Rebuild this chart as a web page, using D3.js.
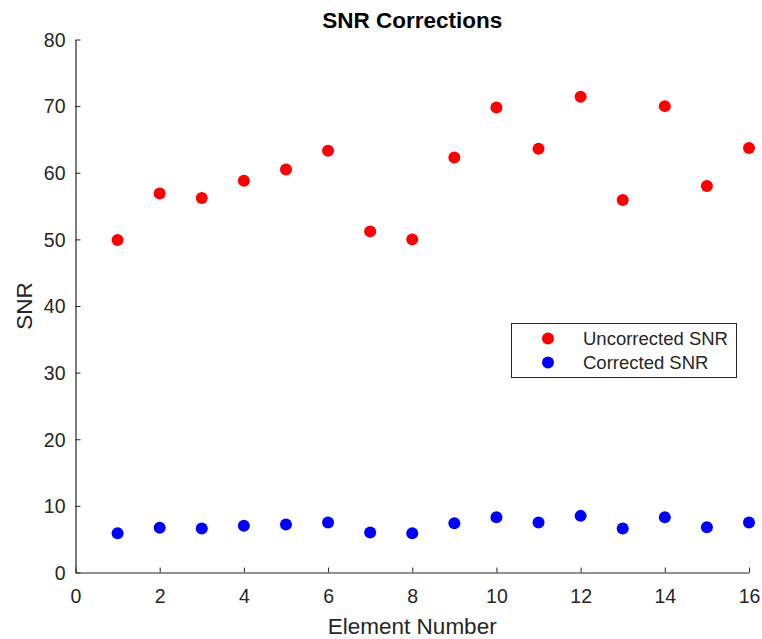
<!DOCTYPE html>
<html>
<head>
<meta charset="utf-8">
<script src="https://cdn.jsdelivr.net/npm/d3@7"></script>
<style>
html,body{margin:0;padding:0;background:#fff;}
svg{display:block;}
text{font-family:"Liberation Sans",Arial,Helvetica,sans-serif;}
</style>
</head>
<body>
<svg id="chart" width="762" height="639"></svg>
<script>
const elements = [1,2,3,4,5,6,7,8,9,10,11,12,13,14,15,16];
const uncorrected = [49.9,56.9,56.2,58.8,60.5,63.3,51.2,50.0,62.3,69.8,63.6,71.4,55.9,70.0,58.0,63.7];
const corrected = [5.9,6.7,6.6,7.0,7.2,7.5,6.0,5.9,7.4,8.3,7.5,8.5,6.6,8.3,6.8,7.5];
const xTicks = [0,2,4,6,8,10,12,14,16];
const yTicks = [0,10,20,30,40,50,60,70,80];
const seriesNames = ["Uncorrected SNR","Corrected SNR"];
const seriesColors = ["#ff0000","#0000ff"];

const svg = d3.select("#chart");
const L = 75.5, R = 749, T = 39.5, B = 572.5;
const x = d3.scaleLinear().domain([0,16]).range([L,R]);
const y = d3.scaleLinear().domain([0,80]).range([B,T]);
const axisColor = "#262626";

// x axis
const gx = svg.append("g").attr("transform",`translate(0,${B})`)
  .call(d3.axisBottom(x).tickValues(xTicks).tickSizeInner(-5).tickSizeOuter(0).tickPadding(0));
gx.select(".domain").attr("stroke",axisColor).attr("stroke-width",1.2);
gx.selectAll(".tick line").attr("stroke",axisColor);
gx.selectAll(".tick text").attr("fill",axisColor).attr("font-size",19.5)
  .attr("font-family","Liberation Sans, Arial, sans-serif").attr("dy",null).attr("y",30);

// y axis
const gy = svg.append("g").attr("transform",`translate(${L},0)`)
  .call(d3.axisLeft(y).tickValues(yTicks).tickSizeInner(-5).tickSizeOuter(0).tickPadding(0));
gy.select(".domain").attr("stroke",axisColor).attr("stroke-width",1.2);
gy.selectAll(".tick line").attr("stroke",axisColor);
gy.selectAll(".tick text").attr("fill",axisColor).attr("font-size",19.5)
  .attr("font-family","Liberation Sans, Arial, sans-serif").attr("x",-10).attr("dy","0.35em");

// title
svg.append("text").attr("x",(L+R)/2).attr("y",28).attr("text-anchor","middle")
  .attr("font-size",22.5).attr("font-weight","bold").attr("fill","#000").text("SNR Corrections");
// x label
svg.append("text").attr("x",(L+R)/2).attr("y",634).attr("text-anchor","middle")
  .attr("font-size",22.5).attr("fill",axisColor).text("Element Number");
// y label
svg.append("text").attr("transform",`translate(31.5,${(T+B)/2}) rotate(-90)`).attr("text-anchor","middle")
  .attr("font-size",22.5).attr("fill",axisColor).text("SNR");

// points
svg.append("g").selectAll("circle").data(elements).join("circle")
  .attr("cx",(d)=>x(d)).attr("cy",(d,i)=>y(uncorrected[i])).attr("r",6).attr("fill",seriesColors[0]);
svg.append("g").selectAll("circle").data(elements).join("circle")
  .attr("cx",(d)=>x(d)).attr("cy",(d,i)=>y(corrected[i])).attr("r",6).attr("fill",seriesColors[1]);

// legend
const lg = svg.append("g");
lg.append("rect").attr("x",511.5).attr("y",323.5).attr("width",225).attr("height",54)
  .attr("fill","#fff").attr("stroke",axisColor).attr("stroke-width",1);
seriesNames.forEach((n,i)=>{
  lg.append("circle").attr("cx",548).attr("cy",338.5+i*24).attr("r",6).attr("fill",seriesColors[i]);
  lg.append("text").attr("x",583).attr("y",338.5+i*24).attr("dy","0.35em")
    .attr("font-size",18.5).attr("fill",axisColor).text(n);
});
</script>
</body>
</html>
